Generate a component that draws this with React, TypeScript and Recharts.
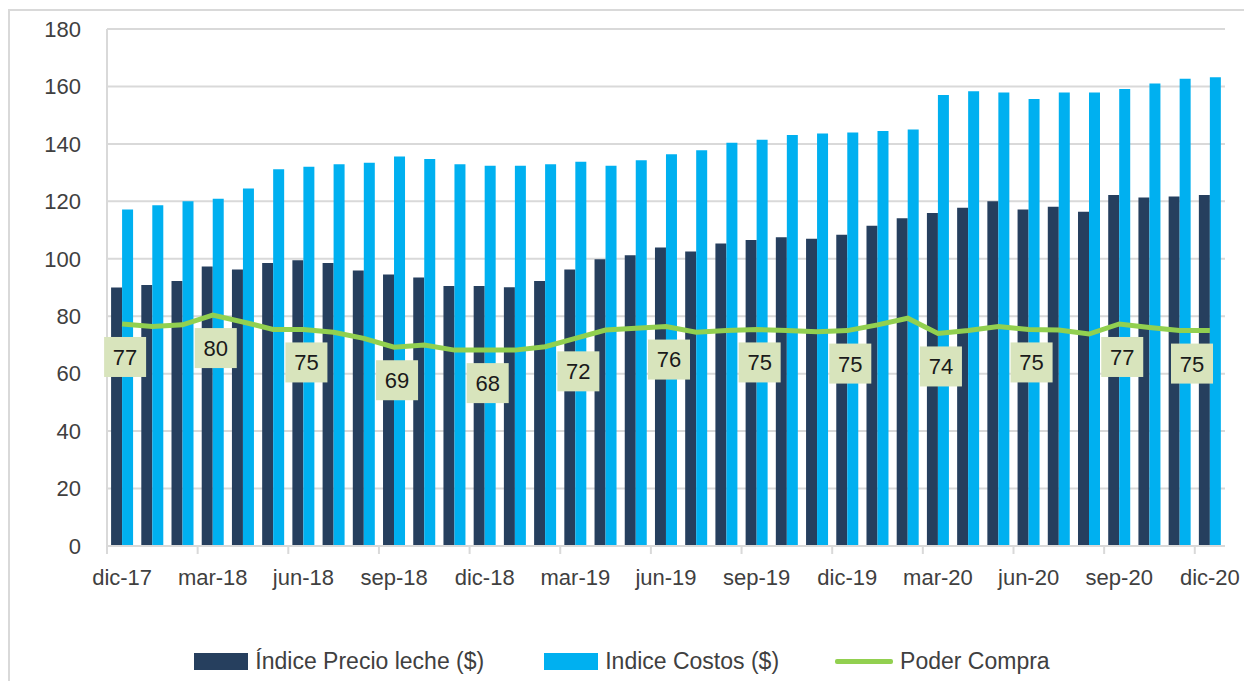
import React from "react";
import {
  ComposedChart,
  Bar,
  Line,
  XAxis,
  YAxis,
  CartesianGrid,
  Legend,
  LabelList,
} from "recharts";

const months = [
  "dic-17", "ene-18", "feb-18", "mar-18", "abr-18", "may-18", "jun-18", "jul-18", "ago-18",
  "sep-18", "oct-18", "nov-18", "dic-18", "ene-19", "feb-19", "mar-19", "abr-19", "may-19",
  "jun-19", "jul-19", "ago-19", "sep-19", "oct-19", "nov-19", "dic-19", "ene-20", "feb-20",
  "mar-20", "abr-20", "may-20", "jun-20", "jul-20", "ago-20", "sep-20", "oct-20", "nov-20",
  "dic-20",
];

const precioLeche = [
  90, 90.9, 92.3, 97.3, 96.3, 98.5, 99.5, 98.5, 95.9, 94.5, 93.5, 90.5, 90.5, 90.1, 92.3,
  96.3, 99.8, 101.2, 103.9, 102.5, 105.3, 106.5, 107.5, 107, 108.4, 111.5, 114.1, 115.9,
  117.8, 120, 117.2, 118.1, 116.4, 122.2, 121.3, 121.7, 122.2,
];

const costos = [
  117.2, 118.6, 120, 120.9, 124.5, 131.2, 132, 132.9, 133.4, 135.6, 134.7, 132.9, 132.4,
  132.4, 132.9, 133.8, 132.4, 134.3, 136.4, 137.8, 140.4, 141.4, 143.1, 143.6, 144, 144.5,
  145, 157, 158.3, 157.9, 155.6, 157.9, 157.9, 159.1, 161, 162.7, 163.2,
];

const poderCompra = [
  77.3, 76.4, 77, 80.4, 78, 75.4, 75.4, 74.4, 72.3, 69.2, 70, 68.2, 68.2, 68.2, 69.4, 72.3,
  75.2, 75.8, 76.4, 74.4, 75, 75.4, 75, 74.6, 75, 77, 79.3, 74, 75, 76.4, 75.4, 75.2, 73.8,
  77.3, 76.1, 75, 75,
];

const yTicks = [0, 20, 40, 60, 80, 100, 120, 140, 160, 180];

const data = months.map((m, i) => ({
  month: m,
  precio: precioLeche[i],
  costos: costos[i],
  poder: poderCompra[i],
}));

const W = 1244;
const H = 681;
const Y_AXIS_W = 107;
const RIGHT_M = 19;
const BAND = (W - Y_AXIS_W - RIGHT_M) / months.length;
const FONT = "'Liberation Sans', Arial, sans-serif";
const GRID = "#d9d9d9";
const TEXT = "#404040";
const DARK = "#263f5e";
const LIGHT = "#00b0f0";
const GREEN = "#92d050";

const XTick = (props: any) => {
  const { x, y, payload } = props;
  return (
    <g>
      <line x1={x - BAND / 2} y1={y} x2={x - BAND / 2} y2={y + 8} stroke={GRID} strokeWidth={2} />
      <text x={x} y={y + 23} dy="0.71em" textAnchor="middle" fontSize={22} fill={TEXT} fontFamily={FONT}>
        {payload.value}
      </text>
    </g>
  );
};

const PoderLabel = (props: any) => {
  const { x, y, value, index } = props;
  if (index % 3 !== 0) return null;
  // keep the box inside the plot, like the last label of the original
  const cx = Math.min(x + 3, W - RIGHT_M - 33);
  const cy = y + 33;
  return (
    <g>
      <rect x={cx - 21} y={cy - 20} width={42} height={40} fill="#d8e4bc" />
      <text x={cx} y={cy} dy="0.36em" textAnchor="middle" fontSize={22} fill="#1a1a1a" fontFamily={FONT}>
        {Math.round(value)}
      </text>
    </g>
  );
};

const LegendContent = () => {
  const item = (swatch: React.ReactNode, label: string, gap: number) => (
    <div style={{ display: "flex", alignItems: "center", marginRight: gap }}>
      {swatch}
      <span style={{ marginLeft: 7 }}>{label}</span>
    </div>
  );
  return (
    <div
      style={{
        display: "flex",
        justifyContent: "center",
        alignItems: "center",
        fontFamily: FONT,
        fontSize: 23,
        color: TEXT,
      }}
    >
      {item(<div style={{ width: 54, height: 17, background: DARK }} />, "Índice Precio leche ($)", 60)}
      {item(<div style={{ width: 54, height: 17, background: LIGHT }} />, "Indice Costos ($)", 56)}
      {item(<div style={{ width: 58, height: 5, background: GREEN, borderRadius: 2 }} />, "Poder Compra", 0)}
    </div>
  );
};

export default function App() {
  return (
    <div
      style={{
        position: "absolute",
        left: 0,
        top: 0,
        width: W,
        height: H,
        overflow: "hidden",
        background: "#fff",
      }}
    >
      <div
        style={{
          position: "absolute",
          left: 8,
          top: 9,
          width: W + 20,
          height: H + 20,
          border: `2px solid ${GRID}`,
        }}
      />
      <ComposedChart
        width={W}
        height={H}
        data={data}
        margin={{ top: 29, right: RIGHT_M, left: 0, bottom: 95 }}
        barCategoryGap="13.5%"
        barGap={0}
      >
        <CartesianGrid vertical={false} stroke={GRID} strokeWidth={2} />
        <XAxis
          dataKey="month"
          interval={2}
          height={40}
          tickSize={0}
          tickMargin={0}
          tickLine={false}
          axisLine={{ stroke: GRID, strokeWidth: 2 }}
          tick={<XTick />}
        />
        <YAxis
          domain={[0, 180]}
          ticks={yTicks}
          width={Y_AXIS_W}
          tickSize={0}
          tickMargin={26}
          tickLine={false}
          axisLine={{ stroke: GRID, strokeWidth: 2 }}
          tick={{ fontSize: 22, fill: TEXT, fontFamily: FONT }}
        />
        <YAxis
          yAxisId="right"
          orientation="right"
          domain={[0, 180]}
          width={0}
          tick={false}
          tickLine={false}
          axisLine={{ stroke: GRID, strokeWidth: 2 }}
        />
        <Bar dataKey="precio" name="Índice Precio leche ($)" fill={DARK} isAnimationActive={false} />
        <Bar dataKey="costos" name="Indice Costos ($)" fill={LIGHT} isAnimationActive={false} />
        <Line
          dataKey="poder"
          name="Poder Compra"
          type="linear"
          stroke={GREEN}
          strokeWidth={5}
          dot={false}
          activeDot={false}
          isAnimationActive={false}
        >
          <LabelList dataKey="poder" content={<PoderLabel />} />
        </Line>
        <Legend
          verticalAlign="middle"
          align="center"
          layout="horizontal"
          content={<LegendContent />}
          wrapperStyle={{ top: 648, left: 0, width: W }}
        />
      </ComposedChart>
    </div>
  );
}
